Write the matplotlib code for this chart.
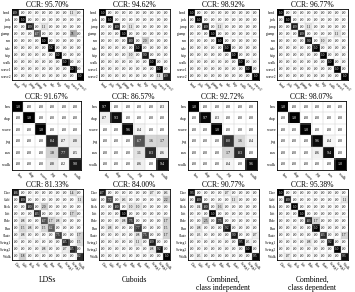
import numpy as np
import matplotlib
matplotlib.use("Agg")
import matplotlib.pyplot as plt

plt.rcParams['font.family'] = ['Liberation Serif', 'DejaVu Serif']

weiz = ["bend", "jack", "jump", "pjump", "run", "side", "skip", "walk", "wave1", "wave2"]
kth = ["box", "clap", "wave", "jog", "run", "walk"]
ucf = ["Dive", "Golf", "Kick", "Lift", "Ride", "Run", "Skate", "Swing1", "Swing2", "Walk"]

ccr = [["95.70%", "94.62%", "98.92%", "96.77%"],
       ["91.67%", "86.57%", "92.72%", "98.07%"],
       ["81.33%", "84.00%", "90.77%", "95.38%"]]

bottom_labels = ["LDSs", "Cuboids", "Combined,\nclass independent", "Combined,\nclass dependent"]

# diagonal values and off-diagonal (row, col, value) per panel
w_diag = [[.89, 1.0, .89, .67, 1.0, 1.0, 1.0, 1.0, 1.0, 1.0],
          [1.0, 1.0, .89, 1.0, .80, 1.0, .90, 1.0, 1.0, .89],
          [1.0, 1.0, .89, 1.0, 1.0, 1.0, 1.0, 1.0, 1.0, 1.0],
          [1.0, 1.0, .89, .89, .90, 1.0, 1.0, 1.0, 1.0, 1.0]]
w_off = [[(0, 8, .11), (2, 4, .11), (3, 8, .33)],
         [(2, 4, .11), (4, 6, .20), (6, 4, .10), (9, 8, .11)],
         [(2, 4, .11)],
         [(2, 4, .11), (3, 8, .11), (4, 6, .10)]]

k_diag = [[1.0, 1.0, 1.0, .84, .77, .90],
          [.97, .93, .96, .67, .83, .94],
          [1.0, .97, 1.0, .80, .83, .96],
          [1.0, 1.0, 1.0, .96, .94, 1.0]]
k_off = [[(3, 4, .07), (3, 5, .08), (4, 3, .18), (4, 5, .05), (5, 3, .08), (5, 4, .02)],
         [(0, 5, .03), (1, 0, .07), (2, 3, .04), (3, 4, .16), (3, 5, .17),
          (4, 3, .11), (4, 5, .06), (5, 3, .06)],
         [(1, 2, .03), (3, 4, .16), (3, 5, .04), (4, 3, .17), (5, 3, .04)],
         [(3, 4, .04), (4, 3, .06)]]

u_diag = [[.86, .89, .80, .83, .67, .62, .75, .85, .85, .82],
          [.87, .72, .80, 1.0, .75, .77, .75, .89, .92, 1.0],
          [.93, .89, .80, 1.0, .75, .92, .90, .95, 1.0, .95],
          [1.0, .89, 1.0, 1.0, .83, 1.0, .83, .92, 1.0, .93]]
u_off = [[(0, 8, .14), (1, 9, .11), (2, 4, .20), (3, 8, .17), (4, 5, .17), (4, 1, .08),
          (4, 6, .08), (5, 4, .15), (5, 1, .15), (5, 2, .08), (6, 9, .17), (6, 1, .08),
          (7, 9, .15), (8, 4, .08), (8, 7, .07), (9, 1, .18)],
         [(0, 7, .07), (0, 9, .06), (1, 9, .22), (1, 3, .06), (2, 4, .10), (2, 5, .10),
          (4, 9, .17), (4, 3, .08), (5, 9, .15), (5, 1, .08), (6, 9, .17), (6, 5, .08),
          (7, 5, .11), (8, 7, .08)],
         [(0, 5, .07), (1, 6, .11), (2, 4, .16), (2, 1, .04), (4, 2, .25), (5, 1, .08),
          (6, 9, .07), (6, 1, .03), (7, 8, .05), (9, 1, .05)],
         [(1, 9, .11), (4, 5, .17), (6, 9, .17), (7, 4, .08), (9, 1, .07)]]

rows = [(weiz, w_diag, w_off), (kth, k_diag, k_off), (ucf, u_diag, u_off)]

W, H = 355, 292
fig = plt.figure(figsize=(W / 100, H / 100), dpi=100)

lefts = [12, 99, 188, 277]
tops = [9, 101, 189]
sizes = [71, 69, 71]


def fmt(v):
    if v >= 0.995:
        return "1.0"
    return ("%.2f" % v)[1:]


for r, (labels, diags, offs) in enumerate(rows):
    n = len(labels)
    for c in range(4):
        m = np.zeros((n, n))
        m[np.arange(n), np.arange(n)] = diags[c]
        for i, j, v in offs[c]:
            m[i, j] = v
        s = sizes[r]
        ax = fig.add_axes([lefts[c] / W, 1 - (tops[r] + s) / H, s / W, s / H])
        ax.imshow(m, cmap='gray_r', vmin=0, vmax=1, aspect='auto', interpolation='nearest')
        fs = 2.6 if n == 10 else 3.0
        for i in range(n):
            for j in range(n):
                ax.text(j, i, fmt(m[i, j]), ha='center', va='center', fontsize=fs,
                        color='white' if m[i, j] > 0.5 else 'black')
        ax.set_xticks(np.arange(n) - 0.5, minor=True)
        ax.set_yticks(np.arange(n) - 0.5, minor=True)
        ax.grid(which='minor', color='#c8c8c8', linewidth=0.3)
        ax.tick_params(which='both', length=0, pad=1)
        ax.set_xticks(np.arange(n))
        ax.set_yticks(np.arange(n))
        ax.set_xticklabels(labels, rotation=-45, ha='left', rotation_mode='anchor', fontsize=fs)
        ax.set_yticklabels(labels, fontsize=fs)
        for sp in ax.spines.values():
            sp.set_linewidth(0.6)
        ax.set_title("CCR: " + ccr[r][c], fontsize=5.5, pad=1.5)
        if r == 2:
            ax.text(0.5, -0.22, bottom_labels[c], transform=ax.transAxes, ha='center',
                    va='top', fontsize=5.5, linespacing=1.1)

fig.savefig("out.png", dpi=100)
